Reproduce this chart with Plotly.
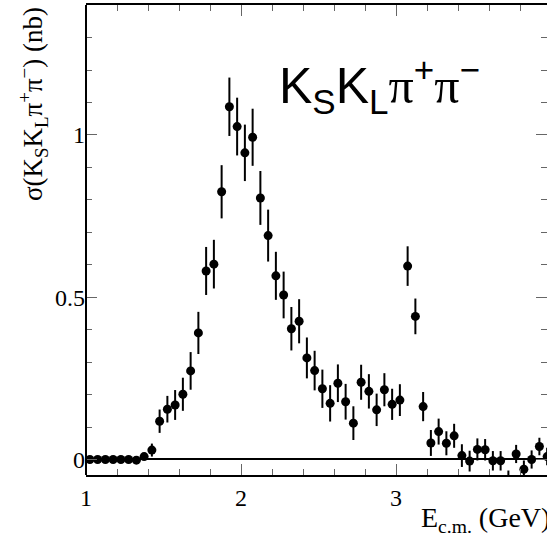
import plotly.graph_objects as go

# e+e- -> KS KL pi+ pi- cross section, 50 MeV bins
energy_gev = [
    1.025, 1.075, 1.125, 1.175, 1.225, 1.275, 1.325, 1.375, 1.425, 1.475,
    1.525, 1.575, 1.625, 1.675, 1.725, 1.775, 1.825, 1.875, 1.925, 1.975,
    2.025, 2.075, 2.125, 2.175, 2.225, 2.275, 2.325, 2.375, 2.425, 2.475,
    2.525, 2.575, 2.625, 2.675, 2.725, 2.775, 2.825, 2.875, 2.925, 2.975,
    3.025, 3.075, 3.125, 3.175, 3.225, 3.275, 3.325, 3.375, 3.425, 3.475,
    3.525, 3.575, 3.625, 3.675, 3.725, 3.775, 3.825, 3.875, 3.925, 3.975,
]
sigma_nb = [
    0.000, 0.000, 0.000, 0.000, 0.000, 0.000, -0.002, 0.009, 0.029, 0.118,
    0.155, 0.168, 0.201, 0.273, 0.390, 0.581, 0.602, 0.825, 1.087, 1.026,
    0.945, 0.993, 0.806, 0.690, 0.566, 0.507, 0.403, 0.426, 0.313, 0.274,
    0.218, 0.173, 0.235, 0.178, 0.112, 0.238, 0.210, 0.153, 0.215, 0.170,
    0.183, 0.596, 0.441, 0.163, 0.051, 0.086, 0.050, 0.073, 0.012, -0.005,
    0.031, 0.030, -0.004, -0.004, -0.068, 0.017, -0.030, 0.000, 0.040, 0.009,
]
sigma_err = [
    0.000, 0.000, 0.000, 0.000, 0.000, 0.000, 0.002, 0.010, 0.020, 0.036,
    0.041, 0.046, 0.051, 0.058, 0.065, 0.074, 0.075, 0.082, 0.090, 0.089,
    0.087, 0.088, 0.083, 0.080, 0.074, 0.072, 0.067, 0.068, 0.063, 0.061,
    0.059, 0.056, 0.058, 0.055, 0.052, 0.054, 0.053, 0.050, 0.051, 0.048,
    0.049, 0.061, 0.055, 0.045, 0.040, 0.040, 0.037, 0.037, 0.035, 0.032,
    0.034, 0.033, 0.030, 0.030, 0.034, 0.028, 0.027, 0.028, 0.027, 0.027,
]

x_ticks = [1, 2, 3, 4]
y_ticks = [0, 0.5, 1]
y_tick_text = ["0", "0.5", "1"]

W, H = 547, 541
L, T, B = 86, 5, 66
px_per_gev = 155.0
px_per_nb = 324.5
plot_w = W - L
plot_h = H - T - B
x_lo = 1.0
x_hi = x_lo + plot_w / px_per_gev
y_hi = 1.4006
y_lo = y_hi - plot_h / px_per_nb

serif = "Liberation Serif"
sans = "Liberation Sans"


def px_x(p):
    return (p - L) / plot_w


def px_y(p):
    return 1 - (p - T) / plot_h


fig = go.Figure()
fig.add_trace(go.Scatter(
    x=energy_gev, y=sigma_nb,
    mode="markers",
    marker=dict(color="black", size=9, symbol="circle", line=dict(width=0)),
    error_y=dict(type="data", array=sigma_err, visible=True,
                 color="black", thickness=2, width=0),
    showlegend=False,
))

tick_common = dict(
    ticks="inside", tickcolor="#666", tickwidth=1, ticklen=11,
    tickfont=dict(family=serif, size=24, color="black"),
    showgrid=False,
)

fig.update_xaxes(
    range=[x_lo, x_hi], tickvals=x_ticks,
    showline=True, linecolor="black", linewidth=2, mirror="ticks",
    zeroline=False,
    minor=dict(dtick=0.2, ticks="inside", ticklen=6, tickcolor="#666",
               tickwidth=1, showgrid=False),
    **tick_common,
)
fig.update_yaxes(
    range=[y_lo, y_hi], tickvals=y_ticks, ticktext=y_tick_text,
    showline=False, mirror="ticks",
    zeroline=True, zerolinecolor="black", zerolinewidth=2,
    minor=dict(dtick=0.1, ticks="inside", ticklen=6, tickcolor="#666",
               tickwidth=1, showgrid=False),
    **tick_common,
)

# left frame edge
fig.add_shape(type="line", xref="paper", yref="paper", x0=0, x1=0, y0=0, y1=1,
              line=dict(color="black", width=2), layer="above")

pi = '<span style="font-family:Liberation Serif">π</span>'
fig.add_annotation(
    xref="paper", yref="paper", x=px_x(277), y=px_y(85),
    xanchor="left", yanchor="middle", showarrow=False,
    text="K<sub>S</sub>K<sub>L</sub>" + pi + "<sup>+</sup>" + pi + "<sup>−</sup>",
    font=dict(family=sans, size=50, color="black"),
)
fig.add_annotation(
    xref="paper", yref="paper", x=px_x(33), y=px_y(5),
    xanchor="center", yanchor="top", textangle=-90, showarrow=False,
    text="σ(K<sub>S</sub>K<sub>L</sub>π<sup>+</sup>π<sup>−</sup>) (nb)",
    font=dict(family=serif, size=27, color="black"),
)
fig.add_annotation(
    xref="paper", yref="paper", x=px_x(419), y=px_y(519),
    xanchor="left", yanchor="middle", showarrow=False,
    text="E<sub>c.m.</sub> (GeV)",
    font=dict(family=serif, size=28, color="black"),
)

fig.update_layout(
    width=W, height=H,
    margin=dict(l=L, r=0, t=T, b=B, pad=0),
    paper_bgcolor="white", plot_bgcolor="white",
)

fig.write_html("out.html")
